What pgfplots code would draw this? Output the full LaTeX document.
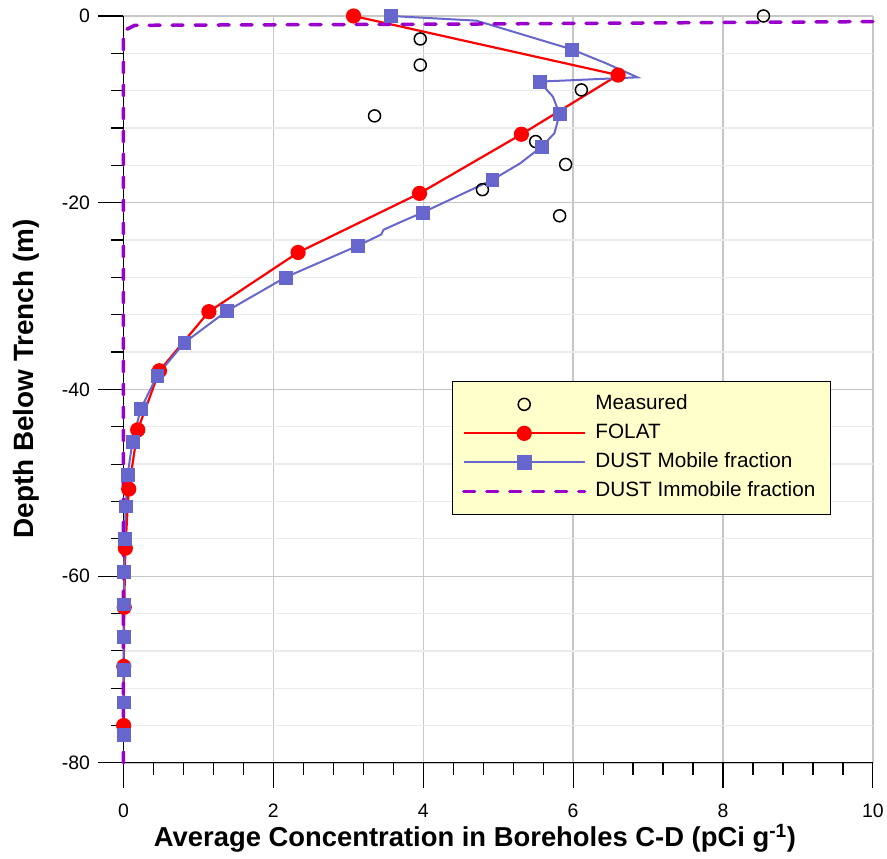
\documentclass[border=0pt]{standalone}
\usepackage{fontspec}
\setmainfont{Liberation Sans}
\usepackage{pgfplots}
\pgfplotsset{compat=1.18}
\usetikzlibrary{calc}
\definecolor{dustblue}{RGB}{102,102,204}
\definecolor{immpurple}{RGB}{153,0,204}
\definecolor{legfill}{RGB}{255,255,204}
\pgfplotsset{legend image code/.code={\draw[mark repeat=2,mark phase=2] plot coordinates {(0bp,0bp)(60.5bp,0bp)(121bp,0bp)};}}
\begin{document}
\begin{tikzpicture}
\begin{axis}[
  scale only axis, width=749.5bp, height=747bp,
  xmin=0, xmax=10, ymin=-80, ymax=0,
  clip=false,
  xtick={0,2,4,6,8,10}, xticklabels={0,2,4,6,8,10},
  ytick={-80,-60,-40,-20,0}, yticklabels={-80,-60,-40,-20,0},
  minor x tick num=4, minor y tick num=4,
  axis x line*=bottom, axis y line*=left,
  axis line style={black, line width=1.2bp, -},
  tick align=outside, major tick length=25bp, minor tick length=12bp,
  tick style={black, line width=1.2bp},
  xmajorgrids, ymajorgrids, yminorgrids,
  major grid style={color=black!22, line width=1.3bp},
  minor grid style={color=black!8, line width=1.3bp},
  ticklabel style={font=\fontsize{19.5}{22}\selectfont},
  xticklabel style={inner ysep=1bp, yshift=-15bp},
  yticklabel style={xshift=-5bp},
  xlabel={Average Concentration in Boreholes C-D (pCi g\textsuperscript{-1})},
  ylabel={Depth Below Trench (m)},
  xlabel style={font=\bfseries\fontsize{27.5}{30}\selectfont, inner sep=0pt, at={(axis description cs:0.469,0)}, anchor=center, yshift=-75bp},
  ylabel style={font=\bfseries\fontsize{28}{30}\selectfont, at={(axis description cs:0,0.514)}, anchor=center, yshift=97.5bp},
  legend style={at={(axis cs:4.39,-39.08)}, anchor=north west, fill=legfill, draw=black, line width=1bp,
    font=\fontsize{20.8}{24}\selectfont, inner xsep=9bp, inner ysep=11bp, row sep=5bp, column sep=3bp,
    nodes={inner xsep=6bp, inner ysep=2bp, text height=15bp, text depth=5bp}},
  legend cell align=left,
]
% Measured
\addplot[only marks, mark=o, mark size=6bp, black, line width=1.5bp] coordinates {
(8.54,0) (3.96,-2.46) (3.96,-5.25) (6.11,-7.92) (3.35,-10.7) (5.50,-13.45) (5.90,-15.9) (4.79,-18.6) (5.82,-21.4)
};
\addlegendentry{Measured}
% FOLAT
\addplot[red, line width=2.2bp, mark=*, mark size=6.5bp, mark options={fill=red, draw=red}] coordinates {
(3.07,0) (6.60,-6.33) (5.31,-12.67) (3.95,-19.0) (2.33,-25.33) (1.14,-31.67) (0.48,-38.0) (0.19,-44.33) (0.07,-50.67) (0.025,-57.0) (0.01,-63.33) (0.004,-69.67) (0.002,-76.0)
};
\addlegendentry{FOLAT}
% DUST mobile: line
\addplot[dustblue, line width=2bp, no marks, forget plot] coordinates {
(3.57,0) (4.71,-0.50) (5.98,-3.57) (6.44,-5.07) (6.86,-6.57) (5.55,-7.03) (5.73,-8.64) (5.82,-10.5) (5.75,-12.56) (5.58,-14.0) (5.29,-15.8) (4.92,-17.56) (3.99,-21.06) (3.69,-22.1) (3.47,-22.9) (3.44,-23.4) (3.13,-24.6) (2.16,-28.0) (1.38,-31.6) (0.81,-35.0) (0.45,-38.5) (0.23,-42.1) (0.12,-45.6) (0.056,-49.1) (0.03,-52.5) (0.015,-56.0) (0.008,-59.5) (0.004,-63.0) (0.002,-66.5) (0.001,-70.0) (0,-73.5) (0,-77.0)
};
% DUST mobile: marks
\addplot[only marks, mark=square*, mark size=6.4bp, mark options={fill=dustblue, draw=dustblue}, forget plot] coordinates {
(3.57,0) (5.98,-3.57) (5.55,-7.03) (5.82,-10.5) (5.58,-14.0) (4.92,-17.56) (3.99,-21.06) (3.13,-24.6) (2.16,-28.0) (1.38,-31.6) (0.81,-35.0) (0.45,-38.5) (0.23,-42.1) (0.12,-45.6) (0.056,-49.1) (0.03,-52.5) (0.015,-56.0) (0.008,-59.5) (0.004,-63.0) (0.002,-66.5) (0.001,-70.0) (0,-73.5) (0,-77.0)
};
\addlegendimage{dustblue, line width=2bp, mark=square*, mark size=6.4bp, mark options={fill=dustblue, draw=dustblue}}
\addlegendentry{DUST Mobile fraction}
% DUST immobile
\addplot[immpurple, line width=3.5bp, dash pattern=on 11bp off 12bp, line cap=round, no marks] coordinates {
(0,-80) (0,-1.6) (0.15,-1.0) (4.7,-0.86) (10,-0.6)
};
\addlegendentry{DUST Immobile fraction}
\end{axis}
\path ($(current axis.south west)+(-123.5bp,-96bp)$) rectangle ($(current axis.north east)+(14bp,16bp)$);
\end{tikzpicture}
\end{document}
